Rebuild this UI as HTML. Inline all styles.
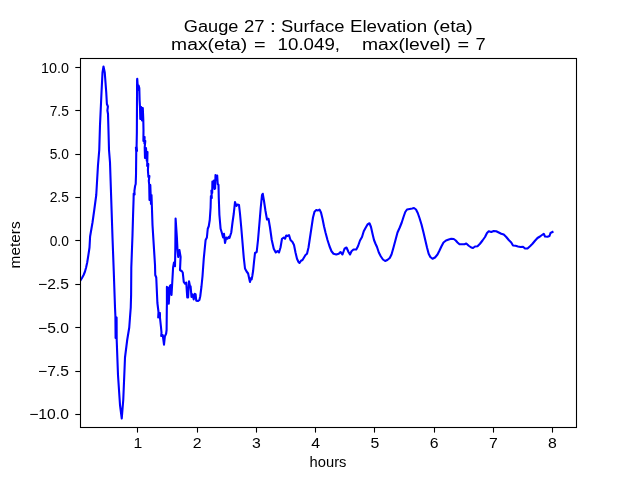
<!DOCTYPE html>
<html><head><meta charset="utf-8"><title>Gauge 27</title>
<style>
html,body{margin:0;padding:0;background:#fff;}
body{width:640px;height:480px;overflow:hidden;}
svg{display:block;will-change:transform;}
text{font-family:"Liberation Sans",sans-serif;fill:#000;}
</style></head><body>
<svg width="640" height="480" viewBox="0 0 640 480">
<rect x="0" y="0" width="640" height="480" fill="#fff"/>
<clipPath id="ax"><rect x="80.5" y="58.5" width="496" height="369"/></clipPath>
<polyline clip-path="url(#ax)" fill="none" stroke="#0000ff" stroke-width="2.1" stroke-linejoin="round" stroke-linecap="square" points="80.2,280.8 82,278 83.6,275 85,271.5 86.1,267.5 87.2,262.5 88,257.5 89,251 89.5,247.5 90.1,236.5 92.50,222.50 94.25,210.00 96.25,195.00 98.00,165.00 99.25,150.00 100.00,125.00 101.50,92.50 102.50,72.50 103.50,66.50 104.75,72.50 106.25,92.50 106.9,104 107.9,106.5 107.4,110.5 108,114 108.50,131.00 109.00,150.00 110.00,162.50 111.25,200.00 112.50,237.50 113.75,271.00 115.00,307.50 115.40,316.00 115.60,338.00 116.60,317.50 116.70,340.00 118.00,375.00 120.00,405.00 121.75,418.50 123.25,400.00 124.50,370.00 125,357.5 127.2,340 129.25,327.5 130.1,316 130.75,307.5 131.1,295 131.3,267.5 132.50,235.00 133.1,214 133.6,199 133.7,193.5 134.6,194.5 134.4,191 135.1,186 135.7,184 136,175 136.25,152 135.9,147.5 137,151 136.6,146 136.85,132.8 137.1,80 137.25,78.75 137.60,84.00 137.80,90.00 138.60,85.50 139.30,88.00 139.6,100 140.0,107 140.30,119.00 141.20,107.00 142.00,120.50 142.80,108.00 143.3,120 143.5,130 143.4,141 144.6,137 144.4,143.5 145.3,141 144.7,147.5 145.00,158.00 146.00,148.00 146.8,161 147.5,152 147.2,166 148.3,164 147.9,170 148.4,177 149.4,176 148.8,181 149.2,184.4 149.50,200.00 150.30,185.00 151.00,204.00 151.50,195.00 152.50,225.00 155.00,265.00 155.25,275.00 156.25,277.50 157.4,303 158.5,312 158.2,317.5 159.9,313 160.0,318 160.9,326.25 161.5,332.5 161.2,336 162.75,335 164,344.6 164.9,336.25 166.1,333.75 166.6,330 166.8,310 166.9,303.75 166.90,286.90 168.00,288.00 168.75,303.75 169.75,286.25 170.60,285.00 171.50,295.00 172.25,282.50 173.10,267.50 174.00,262.50 175.00,266.25 175.30,250.00 175.60,218.50 176.90,237.50 177.50,250.00 178.20,257.00 179.00,251.00 179.40,250.00 180.60,256.90 180.00,270.00 181.90,271.25 182.75,272.50 183.75,281.90 185.00,283.75 186.25,282.50 187.25,297.50 188.10,297.50 189.00,281.25 190.00,286.25 190.60,286.25 191.50,296.90 192.50,294.40 193.75,299.40 194.75,293.75 195.60,294.40 196.25,300.60 198.10,301.00 199.40,300.00 200.25,296.25 201.50,286.25 202.50,276.25 203.75,258.75 205.60,240.00 206.90,237.50 207.75,228.75 208.75,226.25 209.75,220.00 210.6,207.5 210.9,196 211.8,198 211.4,190.5 212.2,193 212.4,181.5 213.2,186 213.9,180.5 214.5,189 215.1,188.5 215.5,175 216.4,180 217.2,175.6 217.7,184 218.5,185 218.75,197 219.40,215.00 220.60,228.75 221.90,233.00 223.10,237.50 224.00,233.75 225.00,243.00 226.25,237.50 227.50,238.75 228.75,236.90 229.50,238.00 231.25,232.50 232.50,222.50 233.75,213.75 235.00,202.00 236.50,206.00 237.50,204.50 239.00,205.00 240.00,213.75 241.25,227.50 242.50,242.50 243.75,257.50 245,268.5 246.6,271.5 248.1,273.5 249.3,279 250,282 250.7,278.2 251.6,279.5 252.3,276 253.1,271 254,262 255,253 256.7,252 258,240 259.50,222.50 260.75,207.50 262.00,195.00 262.75,193.75 264.00,201.00 265.50,211.00 267.00,219.50 268.50,218.75 270.00,227.50 271.75,240.00 273.75,248.75 275.75,252.50 277.50,251.00 279.00,252.50 280.50,247.50 282.00,238.75 283.75,237.50 285.00,238.75 286.25,235.50 287.50,236.00 289.00,235.00 290.50,240.00 292.50,242.00 294.00,245.00 295.50,252.50 297.00,258.75 298.50,262.00 299.50,263.00 301.00,260.75 302.50,260.00 304.00,257.50 305.50,255.00 307.00,253.75 308.50,247.50 310.00,237.50 311.50,227.50 313.00,217.50 314.50,211.75 316.25,210.00 318.00,210.50 319.50,209.50 321.00,212.50 322.50,218.75 324.00,226.25 325.50,232.50 327.50,240.00 329.50,246.25 331.50,251.25 333.50,253.75 336.25,254.50 338.75,253.75 340.50,252.00 342.50,254.50 344.50,248.75 346.50,247.50 348.50,252.00 350.00,254.50 351.50,251.25 353.50,249.50 356.25,249.50 358.00,246.25 360.00,240.50 362.00,237.00 363.75,231.25 365.50,228.00 367.50,224.50 369.50,223.25 371.00,227.00 372.50,233.75 374.00,240.00 375.50,243.75 377.00,247.00 378.82,252.50 380.75,256.25 382.95,259.50 385.15,261.00 387.35,260.00 389.75,258.00 391.50,254.50 393.50,247.50 395.50,240.00 397.50,232.50 399.75,227.50 401.75,222.50 403.50,217.00 405.25,212.00 407.00,209.50 409.75,209.00 412.25,208.50 414.00,208.00 416.00,209.50 417.75,213.00 419.50,218.00 421.50,224.50 423.50,232.50 425.25,240.00 427.00,247.50 428.67,253.75 430.33,257.00 432.50,258.75 435.00,257.50 437.50,254.50 439.50,250.50 441.50,246.25 443.50,242.50 446.00,240.50 448.75,239.50 451.25,238.75 453.75,239.00 455.75,240.50 457.50,242.50 459.50,244.25 462.50,244.25 464.50,244.25 466.25,243.50 468.75,245.75 471.25,247.50 473.00,248.00 475.00,246.50 477.50,246.25 480.00,243.75 482.50,240.50 485.00,237.00 487.00,233.00 488.75,231.25 491.25,232.00 493.75,231.00 496.25,231.25 498.75,232.50 501.25,233.75 503.75,234.50 506.25,237.00 508.75,240.00 511.25,242.50 513.00,245.50 515.50,245.75 518.00,246.50 520.50,247.00 523.00,246.75 525.00,248.50 527.50,248.50 530.00,246.25 532.50,243.75 535.00,240.75 537.50,238.00 540.00,236.50 542.00,235.00 543.75,233.75 545.00,236.50 547.50,236.75 549.50,236.00 550.50,233.00 552.50,232.00"/>
<rect x="80.5" y="58.5" width="496" height="369" fill="none" stroke="#000" stroke-width="1.1"/>
<g stroke="#000" stroke-width="1.1">
<line x1="75.3" y1="67.5" x2="80.5" y2="67.5"/><line x1="75.3" y1="110.5" x2="80.5" y2="110.5"/><line x1="75.3" y1="154.5" x2="80.5" y2="154.5"/><line x1="75.3" y1="197.5" x2="80.5" y2="197.5"/><line x1="75.3" y1="240.5" x2="80.5" y2="240.5"/><line x1="75.3" y1="284.5" x2="80.5" y2="284.5"/><line x1="75.3" y1="327.5" x2="80.5" y2="327.5"/><line x1="75.3" y1="371.5" x2="80.5" y2="371.5"/><line x1="75.3" y1="414.5" x2="80.5" y2="414.5"/><line x1="137.5" y1="427.5" x2="137.5" y2="432.6"/><line x1="197.5" y1="427.5" x2="197.5" y2="432.6"/><line x1="256.5" y1="427.5" x2="256.5" y2="432.6"/><line x1="315.5" y1="427.5" x2="315.5" y2="432.6"/><line x1="374.5" y1="427.5" x2="374.5" y2="432.6"/><line x1="434.5" y1="427.5" x2="434.5" y2="432.6"/><line x1="493.5" y1="427.5" x2="493.5" y2="432.6"/><line x1="552.5" y1="427.5" x2="552.5" y2="432.6"/>
</g>
<text x="40.9" y="73.0" font-size="14.4" textLength="28.0" lengthAdjust="spacingAndGlyphs">10.0</text>
<text x="49.7" y="116.0" font-size="14.4" textLength="19.2" lengthAdjust="spacingAndGlyphs">7.5</text>
<text x="49.7" y="159.0" font-size="14.4" textLength="19.2" lengthAdjust="spacingAndGlyphs">5.0</text>
<text x="49.7" y="202.0" font-size="14.4" textLength="19.2" lengthAdjust="spacingAndGlyphs">2.5</text>
<text x="49.7" y="246.0" font-size="14.4" textLength="19.2" lengthAdjust="spacingAndGlyphs">0.0</text>
<text x="38.0" y="289.0" font-size="14.4" textLength="30.9" lengthAdjust="spacingAndGlyphs">−2.5</text>
<text x="38.0" y="333.0" font-size="14.4" textLength="30.9" lengthAdjust="spacingAndGlyphs">−5.0</text>
<text x="38.0" y="376.0" font-size="14.4" textLength="30.9" lengthAdjust="spacingAndGlyphs">−7.5</text>
<text x="29.2" y="419.0" font-size="14.4" textLength="39.7" lengthAdjust="spacingAndGlyphs">−10.0</text>
<text x="133.4" y="448" font-size="14.4" textLength="8.8" lengthAdjust="spacingAndGlyphs">1</text>
<text x="192.7" y="448" font-size="14.4" textLength="8.8" lengthAdjust="spacingAndGlyphs">2</text>
<text x="251.9" y="448" font-size="14.4" textLength="8.8" lengthAdjust="spacingAndGlyphs">3</text>
<text x="311.2" y="448" font-size="14.4" textLength="8.8" lengthAdjust="spacingAndGlyphs">4</text>
<text x="370.4" y="448" font-size="14.4" textLength="8.8" lengthAdjust="spacingAndGlyphs">5</text>
<text x="429.7" y="448" font-size="14.4" textLength="8.8" lengthAdjust="spacingAndGlyphs">6</text>
<text x="488.9" y="448" font-size="14.4" textLength="8.8" lengthAdjust="spacingAndGlyphs">7</text>
<text x="548.1" y="448" font-size="14.4" textLength="8.8" lengthAdjust="spacingAndGlyphs">8</text>
<text x="309.6" y="466.7" font-size="14.4" textLength="36.8" lengthAdjust="spacingAndGlyphs">hours</text>
<text transform="translate(19.8,268.4) rotate(-90)" font-size="14.4" textLength="47" lengthAdjust="spacingAndGlyphs">meters</text>
<text x="183.8" y="31.8" font-size="17.3" textLength="54.7" lengthAdjust="spacingAndGlyphs">Gauge</text>
<text x="243.9" y="31.8" font-size="17.3" textLength="20.6" lengthAdjust="spacingAndGlyphs">27</text>
<text x="269.7" y="31.8" font-size="17.3" textLength="6.3" lengthAdjust="spacingAndGlyphs">:</text>
<text x="281.0" y="31.8" font-size="17.3" textLength="63.4" lengthAdjust="spacingAndGlyphs">Surface</text>
<text x="349.9" y="31.8" font-size="17.3" textLength="77.2" lengthAdjust="spacingAndGlyphs">Elevation</text>
<text x="433.1" y="31.8" font-size="17.3" textLength="39.7" lengthAdjust="spacingAndGlyphs">(eta)</text>
<text x="171.1" y="49.8" font-size="17.3" textLength="76.1" lengthAdjust="spacingAndGlyphs">max(eta)</text>
<text x="253.9" y="49.8" font-size="17.3" textLength="11.6" lengthAdjust="spacingAndGlyphs">=</text>
<text x="277.6" y="49.8" font-size="17.3" textLength="62.4" lengthAdjust="spacingAndGlyphs">10.049,</text>
<text x="361.9" y="49.8" font-size="17.3" textLength="89.1" lengthAdjust="spacingAndGlyphs">max(level)</text>
<text x="457.5" y="49.8" font-size="17.3" textLength="11.6" lengthAdjust="spacingAndGlyphs">=</text>
<text x="475.6" y="49.8" font-size="17.3" textLength="10.2" lengthAdjust="spacingAndGlyphs">7</text>
</svg>
</body></html>
